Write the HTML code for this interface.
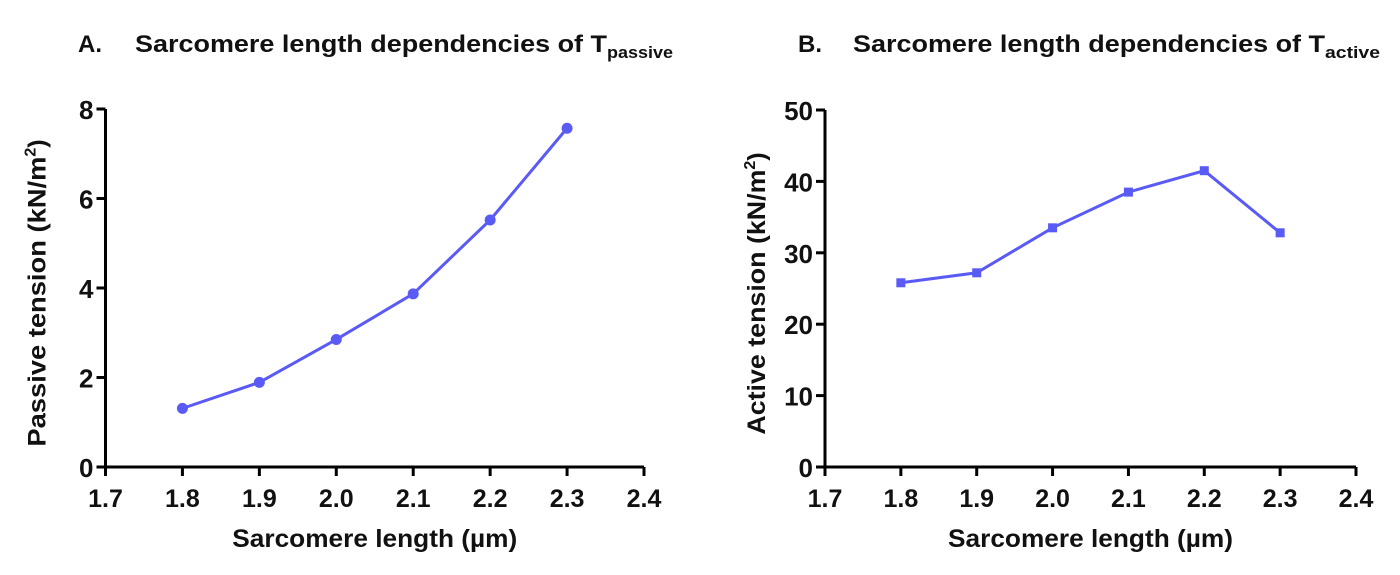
<!DOCTYPE html>
<html><head><meta charset="utf-8"><style>
body{margin:0;background:#fff;width:1400px;height:570px;overflow:hidden}
svg text{font-family:"Liberation Sans",Arial,sans-serif;font-weight:bold;fill:#111}
</style></head><body>
<svg id="svg" width="1400" height="570" xmlns="http://www.w3.org/2000/svg">
<text x="78" y="52" font-size="24">A.</text>
<text x="135" y="52" font-size="24"><tspan textLength="472" lengthAdjust="spacingAndGlyphs">Sarcomere length dependencies of T</tspan><tspan font-size="17" dy="6" textLength="66" lengthAdjust="spacingAndGlyphs">passive</tspan></text>
<text x="798" y="52" font-size="24">B.</text>
<text x="853" y="52" font-size="24"><tspan textLength="472" lengthAdjust="spacingAndGlyphs">Sarcomere length dependencies of T</tspan><tspan font-size="17" dy="6" textLength="55" lengthAdjust="spacingAndGlyphs">active</tspan></text>
</svg>
<script>
const xTicks=[1.7,1.8,1.9,2.0,2.1,2.2,2.3,2.4];
const lengths=[1.8,1.9,2.0,2.1,2.2,2.3];
const passiveVals=[1.31,1.89,2.85,3.87,5.52,7.57];
const activeVals=[25.8,27.2,33.5,38.5,41.5,32.8];
const passiveTicks=[0,2,4,6,8];
const activeTicks=[0,10,20,30,40,50];
const NS='http://www.w3.org/2000/svg';
const svg=document.getElementById('svg');
function mk(tag,attrs,parent){const e=document.createElementNS(NS,tag);for(const k in attrs)e.setAttribute(k,attrs[k]);(parent||svg).appendChild(e);return e;}
function chart(id,x0,x1,y0,y1,ymax,yTicks,vals,yLabel,yLen,marker){
  const g=mk('g',{});
  
  
  const sx=v=>x0+(v-1.7)/0.7*(x1-x0);
  const sy=v=>y0-v/ymax*(y0-y1);
  const ax=mk('path',{d:`M${x0} ${y1}V${y0}H${x1}`,stroke:'#000','stroke-width':3,fill:'none'},g);
  
  
  xTicks.forEach(t=>{
    const tk=mk('line',{x1:sx(t),x2:sx(t),y1:y0,y2:y0+9,stroke:'#000','stroke-width':3},g);
    
    
    const tl=mk('text',{x:sx(t),y:y0+40,'font-size':25,'text-anchor':'middle'},g);
    tl.textContent=t.toFixed(1);
    
    
  });
  yTicks.forEach(t=>{
    const tk=mk('line',{x1:x0-9,x2:x0,y1:sy(t),y2:sy(t),stroke:'#000','stroke-width':3},g);
    
    
    const tl=mk('text',{x:x0-12,y:sy(t)+10,'font-size':26,'text-anchor':'end'},g);
    tl.textContent=t;
    
    
  });
  const xt=mk('text',{x:(x0+x1)/2,y:y0+80,'font-size':25,'text-anchor':'middle',textLength:285,lengthAdjust:'spacingAndGlyphs'},g);
  xt.textContent='Sarcomere length (\u00b5m)';
  
  
  const yt=mk('text',{transform:`translate(${x0-60},${(y0+y1)/2+5}) rotate(-90)`,'font-size':25,'text-anchor':'middle'},g);
  yt.innerHTML='<tspan textLength="'+yLen+'" lengthAdjust="spacingAndGlyphs">'+yLabel+' (kN/m</tspan><tspan dy="-10" font-size="16">2</tspan><tspan dy="10">)</tspan>';
  
  
  const pts=lengths.map((l,i)=>[sx(l),sy(vals[i])]);
  const ln=mk('polyline',{points:pts.map(p=>p.join(',')).join(' '),stroke:'#5a5af5','stroke-width':3,fill:'none'},g);
  
  
  pts.forEach(p=>{
    let m;
    if(marker==='circle')m=mk('circle',{cx:p[0],cy:p[1],r:5.5,fill:'#5a5af5'},g);
    else m=mk('rect',{x:p[0]-4.5,y:p[1]-4.5,width:9,height:9,fill:'#5a5af5'},g);
    
    
  });
}
chart('passive-chart',105.5,644,467,109,8,passiveTicks,passiveVals,'Passive tension',290,'circle');
chart('active-chart',825,1356,467,110,50,activeTicks,activeVals,'Active tension',265,'square');
</script>
</body></html>
